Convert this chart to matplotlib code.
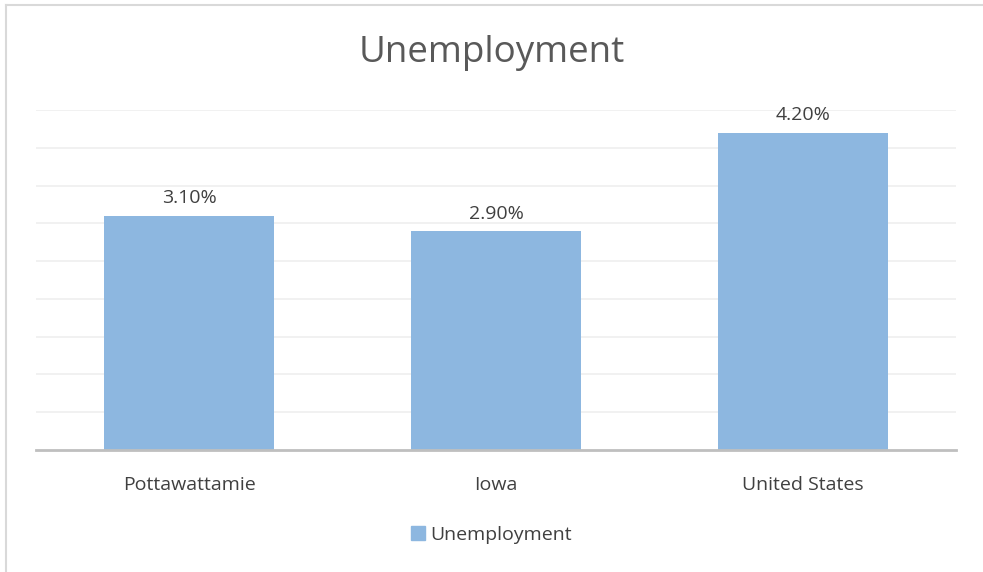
import matplotlib
matplotlib.use("Agg")
import matplotlib.pyplot as plt
from matplotlib.lines import Line2D
from matplotlib.patches import Patch

# data
regions = ["Pottawattamie", "Iowa", "United States"]
unemployment = [3.10, 2.90, 4.20]
grid_ticks = [0.5, 1.0, 1.5, 2.0, 2.5, 3.0, 3.5, 4.0, 4.5]

plt.rcParams['font.family'] = ['Open Sans', 'DejaVu Sans']
bar_color = '#8DB7E0'
text_color = '#404040'

fig = plt.figure(figsize=(9.83, 5.72), dpi=100)
ax = fig.add_axes([0.0366, 0.2133, 0.9359, 0.5944])

x = range(len(regions))
ax.bar(x, unemployment, width=0.555, color=bar_color, zorder=3)

# value labels on top of the bars
for xi, v in zip(x, unemployment):
    ax.text(xi, v + 0.11, f"{v:.2f}%", ha='center', va='bottom',
            fontsize=14, color=text_color)

ax.set_xlim(-0.5, 2.5)
ax.set_ylim(0, 4.5)
for g in grid_ticks:
    ax.axhline(g, color='#EFEFEF', linewidth=1.2, zorder=1)
ax.axhline(0, color='#BFBFBF', linewidth=2, zorder=4, clip_on=False)

ax.set_yticks([])
ax.set_xticks(list(x))
ax.set_xticklabels(regions, fontsize=14, color=text_color)
ax.tick_params(axis='x', length=0, pad=19)
for s in ax.spines.values():
    s.set_visible(False)

fig.text(0.5, 1 - 53 / 572, "Unemployment", ha='center', va='center',
         fontsize=26.5, color='#595959')

fig.legend(handles=[Patch(color=bar_color, label="Unemployment")],
           loc='center', bbox_to_anchor=(0.5, 1 - 535 / 572), frameon=False,
           fontsize=14, handlelength=0.7, handleheight=0.7,
           handletextpad=0.3, labelcolor=text_color)

# chart border (only top and left visible in the crop)
fig.add_artist(Line2D([6 / 983, 6 / 983], [0, 1 - 5 / 572], color='#D9D9D9', linewidth=1.5))
fig.add_artist(Line2D([6 / 983, 1], [1 - 5 / 572, 1 - 5 / 572], color='#D9D9D9', linewidth=1.5))

fig.savefig("out.png", dpi=100)
